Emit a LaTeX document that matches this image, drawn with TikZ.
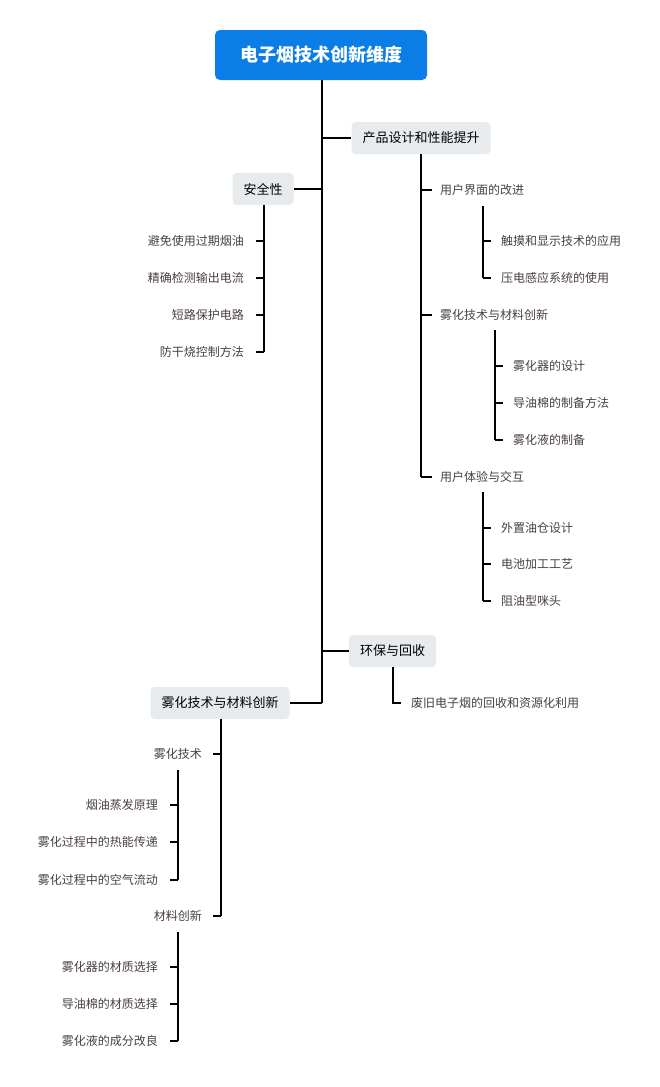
\documentclass[tikz,border=0pt]{standalone}
\usepackage{fontspec}
\setmainfont{Noto Sans CJK SC}
\usetikzlibrary{positioning}
\definecolor{rootblue}{HTML}{0B7DE6}
\definecolor{boxgray}{HTML}{E8EBEE}
\definecolor{leaftext}{HTML}{4A4040}
\tikzset{
    rootbox/.style={rectangle, rounded corners=5pt, fill=rootblue, text=white, font=\fontsize{18}{20}\selectfont\bfseries, minimum width=212pt, minimum height=50pt},
    mainbox/.style={rectangle, rounded corners=4pt, fill=boxgray, text=black, font=\fontsize{13}{15}\selectfont, minimum height=32pt, inner xsep=11pt},
    leaf/.style={inner sep=0pt, text=leaftext, font=\fontsize{12}{14}\selectfont},
    branch/.style={line width=2.2pt, black}
}
\begin{document}
\begin{tikzpicture}[x=1pt, y=-1pt]
    \useasboundingbox[fill=white] (0,0) rectangle (659,1087);

    %Root
    \node[rootbox] (root) at (321,55) {电子烟技术创新维度};
    \node[mainbox] (prod) at (421,138) {产品设计和性能提升};
    \node[mainbox] (safe) at (263,189) {安全性};
    \node[mainbox] (eco) at (392.5,651) {环保与回收};
    \node[mainbox] (atom) at (220,703) {雾化技术与材料创新};

    %Main spine
    \coordinate (spine) at (322,80);
    \draw[branch] (root.south -| spine) -- (spine |- atom.east);
    \draw[branch] (spine |- prod.west) -- (prod.west);
    \draw[branch] (spine |- safe.east) -- (safe.east);
    \draw[branch] (spine |- eco.west) -- (eco.west);
    \draw[branch] (spine |- atom.east) -- (atom.east);

    %Product design
    \node[leaf, anchor=west] (ui) at (440,190) {用户界面的改进};
    \node[leaf, anchor=west] (atomb) at (440,315) {雾化技术与材料创新};
    \node[leaf, anchor=west] (ux) at (440,477) {用户体验与交互};
    \coordinate (s1) at (421,154);
    \draw[branch] (s1) -- (s1 |- ux.west);
    \foreach \c in {ui, atomb, ux}
        \draw[branch] (s1 |- \c.west) -- ([xshift=-8pt]\c.west);

    \node[leaf, anchor=west] (ui1) at (501,241) {触摸和显示技术的应用};
    \node[leaf, anchor=west] (ui2) at (501,278) {压电感应系统的使用};
    \coordinate (s2) at (483,206);
    \draw[branch] (s2) -- (s2 |- ui2.west);
    \foreach \c in {ui1, ui2}
        \draw[branch] (s2 |- \c.west) -- ([xshift=-10pt]\c.west);

    \node[leaf, anchor=west] (ab1) at (513,366) {雾化器的设计};
    \node[leaf, anchor=west] (ab2) at (513,403) {导油棉的制备方法};
    \node[leaf, anchor=west] (ab3) at (513,440) {雾化液的制备};
    \coordinate (s3) at (495,330);
    \draw[branch] (s3) -- (s3 |- ab3.west);
    \foreach \c in {ab1, ab2, ab3}
        \draw[branch] (s3 |- \c.west) -- ([xshift=-10pt]\c.west);

    \node[leaf, anchor=west] (ux1) at (501,528) {外置油仓设计};
    \node[leaf, anchor=west] (ux2) at (501,564) {电池加工工艺};
    \node[leaf, anchor=west] (ux3) at (501,601) {阻油型咪头};
    \coordinate (s4) at (483,492);
    \draw[branch] (s4) -- (s4 |- ux3.west);
    \foreach \c in {ux1, ux2, ux3}
        \draw[branch] (s4 |- \c.west) -- ([xshift=-10pt]\c.west);

    %Safety
    \node[leaf, anchor=east] (sf1) at (244,241) {避免使用过期烟油};
    \node[leaf, anchor=east] (sf2) at (244,278) {精确检测输出电流};
    \node[leaf, anchor=east] (sf3) at (244,315) {短路保护电路};
    \node[leaf, anchor=east] (sf4) at (244,352) {防干烧控制方法};
    \coordinate (s5) at (264,205);
    \draw[branch] (s5) -- (s5 |- sf4.east);
    \foreach \c in {sf1, sf2, sf3, sf4}
        \draw[branch] (s5 |- \c.east) -- ([xshift=12pt]\c.east);

    %Recycling
    \node[leaf, anchor=west] (ec1) at (411,703) {废旧电子烟的回收和资源化利用};
    \coordinate (s6) at (393,667);
    \draw[branch] (s6) |- ([xshift=-10pt]ec1.west);

    %Atomization and materials
    \node[leaf, anchor=east] (at1) at (202,754) {雾化技术};
    \node[leaf, anchor=east] (at2) at (202,916) {材料创新};
    \coordinate (s7) at (221,719);
    \draw[branch] (s7) -- (s7 |- at2.east);
    \foreach \c in {at1, at2}
        \draw[branch] (s7 |- \c.east) -- ([xshift=11pt]\c.east);

    \node[leaf, anchor=east] (t1) at (158,805) {烟油蒸发原理};
    \node[leaf, anchor=east] (t2) at (158,842) {雾化过程中的热能传递};
    \node[leaf, anchor=east] (t3) at (158,880) {雾化过程中的空气流动};
    \coordinate (s8) at (178,770);
    \draw[branch] (s8) -- (s8 |- t3.east);
    \foreach \c in {t1, t2, t3}
        \draw[branch] (s8 |- \c.east) -- ([xshift=12pt]\c.east);

    \node[leaf, anchor=east] (m1) at (158,967) {雾化器的材质选择};
    \node[leaf, anchor=east] (m2) at (158,1004) {导油棉的材质选择};
    \node[leaf, anchor=east] (m3) at (158,1041) {雾化液的成分改良};
    \coordinate (s9) at (178,932);
    \draw[branch] (s9) -- (s9 |- m3.east);
    \foreach \c in {m1, m2, m3}
        \draw[branch] (s9 |- \c.east) -- ([xshift=12pt]\c.east);
\end{tikzpicture}
\end{document}
